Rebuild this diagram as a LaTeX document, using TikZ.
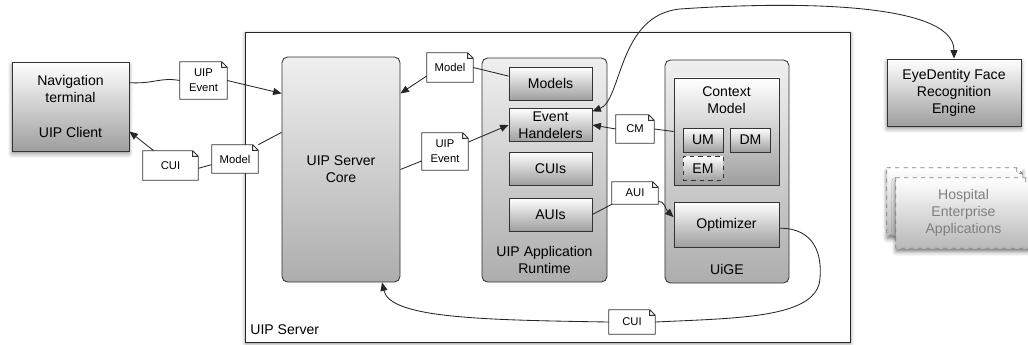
\documentclass[tikz,border=0pt]{standalone}
\usepackage{fontspec}
\setmainfont{Liberation Sans}
\usetikzlibrary{arrows.meta,shadows.blur}

\tikzset{
  box/.style={draw=black!80, line width=0.6pt, top color=white, bottom color=black!38,
    align=center, font=\fontsize{10}{12}\selectfont, inner sep=1pt},
  outer/.style={box, blur shadow={shadow xshift=0pt, shadow yshift=-2pt,
    shadow blur radius=3pt, shadow opacity=45}},
  container/.style={box, rounded corners=4pt, top color=black!6, bottom color=black!32},
  part/.style={box, minimum width=2.075cm, minimum height=0.825cm},
  sub/.style={box, minimum width=1cm, minimum height=0.6cm},
  boxlabel/.style={align=center, font=\fontsize{10}{12}\selectfont},
  doc/.style={fill=white, inner sep=1pt, align=center, font=\fontsize{8}{10.5}\selectfont},
  docline/.style={draw=black!80, line width=0.6pt},
  stack/.style={top color=white, bottom color=black!28, align=center, inner sep=1pt,
    font=\fontsize{10}{12}\selectfont, text=black!50,
    blur shadow={shadow xshift=0pt, shadow yshift=-2.5pt, shadow blur radius=3pt, shadow opacity=55}},
  stackline/.style={draw=black!50, line width=0.6pt, dashed},
  >={Triangle[length=6pt,width=5pt]}
}

\newcommand{\dogear}[2][docline]{%
  \fill[white] ([xshift=-4pt]#2.north east) -- (#2.north east) -- ([yshift=-4pt]#2.north east) -- cycle;
  \draw[#1] (#2.north west) -- ([xshift=-4pt]#2.north east) -- ([yshift=-4pt]#2.north east)
    |- (#2.south west) -- cycle
    ([xshift=-4pt]#2.north east) |- ([yshift=-4pt]#2.north east);
}

\begin{document}
\begin{tikzpicture}[x=0.025cm, y=-0.025cm]
  \useasboundingbox (0,0) rectangle (1028,344);

  \node[draw=black!85, line width=0.7pt, fill=white, minimum width=15.1cm, minimum height=7.725cm,
    blur shadow={shadow xshift=0pt, shadow yshift=-1pt, shadow blur radius=3pt, shadow opacity=50},
    label={[boxlabel, anchor=south west, yshift=2pt]south west:UIP Server}] (server) at (548,187.5) {};

  \node[container, minimum width=2.95cm, minimum height=5.625cm] (core) at (341,169.5) {UIP Server\\Core};
  \node[container, minimum width=3.125cm, minimum height=5.6cm,
    label={[boxlabel, anchor=south, yshift=3pt]south:UIP Application\\Runtime}] (runtime) at (544.5,170) {};
  \node[container, minimum width=3.1cm, minimum height=5.575cm,
    label={[boxlabel, anchor=south, yshift=3pt]south:UiGE}] (uige) at (727,171.5) {};

  \node[part] (models) at (550.5,83.5) {Models};
  \node[part] (handlers) at (550.5,125) {Event\\Handelers};
  \node[part] (cuis) at (550.5,168.5) {CUIs};
  \node[part] (auis) at (550.5,214.5) {AUIs};

  \node[box, minimum width=2.625cm, minimum height=2.675cm,
    label={[boxlabel, anchor=north, yshift=-3pt]north:Context\\Model}] (context) at (726.5,131.5) {};
  \node[sub] (um) at (703,140) {UM};
  \node[sub] (dm) at (750.5,140) {DM};
  \node[sub, dashed] (em) at (703,168.5) {EM};
  \node[box, minimum width=2.625cm, minimum height=1.125cm] (opt) at (726.5,224.5) {Optimizer};

  \node[outer, minimum width=2.925cm, minimum height=2.225cm] (nav) at (70.5,106.5)
    {Navigation\\terminal\\[13pt]UIP Client};
  \node[outer, minimum width=3.35cm, minimum height=1.675cm] (eye) at (954,92.5)
    {EyeDentity Face\\Recognition\\Engine};

  \node[stack, minimum width=3.375cm, minimum height=1.675cm] (hospback) at (954.5,201.5) {};
  \dogear[stackline]{hospback}
  \node[stack, minimum width=3.375cm, minimum height=1.75cm] (hosp) at (963.5,213)
    {Hospital\\Enterprise\\Applications};
  \dogear[stackline]{hosp}

  \node[doc, minimum width=1.175cm, minimum height=0.925cm] (ev1) at (203.5,80.5) {UIP\\Event};
  \node[doc, minimum width=1.15cm, minimum height=0.7cm] (mod1) at (235,159) {Model};
  \node[doc, minimum width=1.375cm, minimum height=0.725cm] (cui1) at (170.5,165.5) {CUI};
  \node[doc, minimum width=1.15cm, minimum height=0.725cm] (mod2) at (450,67.5) {Model};
  \node[doc, minimum width=1.15cm, minimum height=0.925cm] (ev2) at (445,151.5) {UIP\\Event};
  \node[doc, minimum width=0.95cm, minimum height=0.7cm] (cm) at (635,129) {CM};
  \node[doc, minimum width=1.15cm, minimum height=0.55cm] (aui) at (635,193) {AUI};
  \node[doc, minimum width=1.15cm, minimum height=0.6cm] (cui2) at (632,322) {CUI};
  \foreach \d in {ev1,mod1,cui1,mod2,ev2,cm,aui,cui2}
    \dogear{\d};

  \begin{scope}[line width=0.6pt, black!85]
    \draw (nav.22) .. controls (155,84) and (160,77) .. (ev1.west);
    \draw[->] (ev1.east) -- (core.128);
    \draw (core.148) -- (mod1.north east);
    \draw ([yshift=-4pt]mod1.west) -- ([yshift=-2pt]cui1.east);
    \draw[->] ([xshift=-12pt]cui1.north) -- (nav.-23);
    \draw (models.170) -- (mod2.east);
    \draw[->] (mod2.-160) -- (core.52);
    \draw (core.east) -- (ev2.-158);
    \draw[->] (ev2.22) -- (handlers.west);
    \draw (context.west) -- (cm.east);
    \draw[->] (cm.west) -- (handlers.east);
    \draw (auis.east) -- (aui.south west);
    \draw[->] (aui.-20) .. controls (664,200) and (666,210) .. (opt.172);
    \draw (opt.-4) .. controls (815,228) and (822,255) .. (820,278)
      .. controls (818,318) and (740,318) .. (cui2.east);
    \draw[->] (cui2.west) .. controls (480,320) and (390,318) .. (core.-70);
    \draw[<->] (handlers.18) .. controls (622,100) and (618,15) .. (680,9)
      .. controls (780,2) and (954,0) .. (eye.north);
  \end{scope}
\end{tikzpicture}
\end{document}
